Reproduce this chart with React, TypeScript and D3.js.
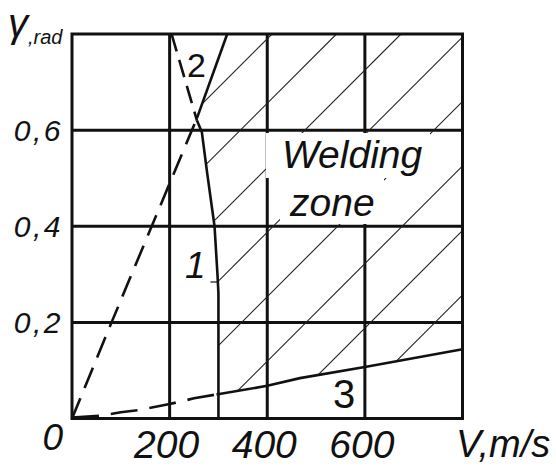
import React from "react";
import * as d3 from "d3";

// tick values
const xTicks = [200, 400, 600];
const yTicks = [0.2, 0.4, 0.6];
const yTickLabels = ["0,2", "0,4", "0,6"];

// curve 1 (upper part dashed, lower part solid)
const c1DashV = [204, 230, 256];
const c1DashG = [0.8, 0.71, 0.62];
const c1SolidV = [256, 266, 277, 292, 298, 300, 300, 300];
const c1SolidG = [0.62, 0.596, 0.51, 0.4, 0.3, 0.26, 0.05, 0];

// curve 2 (lower part dashed, upper part solid)
const c2DashV = [0, 81, 118, 256];
const c2DashG = [0, 0.2, 0.29, 0.625];
const c2SolidV = [256, 318];
const c2SolidG = [0.625, 0.8];

// curve 3
const c3DashV = [0, 60, 100, 140, 200, 250, 296];
const c3DashG = [0.002, 0.006, 0.013, 0.018, 0.03, 0.042, 0.05];
const c3SolidV = [296, 400, 467, 600, 800];
const c3SolidG = [0.05, 0.068, 0.084, 0.107, 0.144];

const W = 556, H = 467;
const font = "'Liberation Sans', Arial, sans-serif";

const zip = (v: number[], g: number[]) => v.map((d, i) => [d, g[i]] as [number, number]);

export default function App() {
  const x = d3.scaleLinear().domain([0, 800]).range([72, 462.5]);
  const y = d3.scaleLinear().domain([0, 0.8]).range([418.5, 34]);
  const line = d3.line<[number, number]>().x(d => x(d[0])).y(d => y(d[1]));

  // welding zone outline, built from the curves
  const zone: [number, number][] = [
    ...zip(c2SolidV, c2SolidG).reverse(),
    ...zip(c1SolidV, c1SolidG).filter(d => d[1] >= 0.05).slice(1),
    ...zip(c3SolidV, c3SolidG),
    [800, 0.8],
  ];

  // hatch lines x + y = c (pixels), at 45 deg
  const hatchStep = 64.5;
  const c0 = x(800) + y(0.257);
  const hatch: number[] = [];
  for (let c = c0 + hatchStep * 2; c > x(0) + y(0.8); c -= hatchStep) hatch.push(c);

  const gridW = 3;
  return (
    <svg width={W} height={H} style={{ position: "absolute", left: 0, top: 0, background: "#fff" }}>
      <defs>
        <clipPath id="zone">
          <path d={line(zone) + "Z"} />
        </clipPath>
      </defs>

      {/* grid */}
      {xTicks.map(t => (
        <line key={"gx" + t} x1={x(t)} x2={x(t)} y1={y(0)} y2={y(0.8)} stroke="#111" strokeWidth={gridW} />
      ))}
      {yTicks.map(t => (
        <line key={"gy" + t} x1={x(0)} x2={x(800)} y1={y(t)} y2={y(t)} stroke="#111" strokeWidth={gridW} />
      ))}

      {/* hatching */}
      <g clipPath="url(#zone)">
        {hatch.map(c => (
          <line key={c} x1={c - y(0)} y1={y(0)} x2={c - y(0.8)} y2={y(0.8)} stroke="#222" strokeWidth={1.1} />
        ))}
      </g>

      {/* curves */}
      <g fill="none" stroke="#111" strokeWidth={2.6}>
        <path d={line(zip(c1DashV, c1DashG)) || ""} strokeDasharray="18,9" />
        <path d={line(zip(c1SolidV, c1SolidG)) || ""} />
        <path d={line(zip(c2DashV, c2DashG)) || ""} strokeDasharray="22,11" />
        <path d={line(zip(c2SolidV, c2SolidG)) || ""} />
        <path d={line(zip(c3DashV, c3DashG)) || ""} strokeDasharray="27,12" />
        <path d={line(zip(c3SolidV, c3SolidG)) || ""} />
      </g>
      {/* leader tick of label 1 */}
      <line x1={x(300) - 8} x2={x(300)} y1={282} y2={282} stroke="#111" strokeWidth={1.2} />

      {/* zone label boxes */}
      <rect x={266} y={133} width={164} height={45} fill="#fff" />
      <rect x={280} y={178} width={104} height={46} fill="#fff" />

      {/* frame */}
      <rect x={x(0)} y={y(0.8)} width={x(800) - x(0)} height={y(0) - y(0.8)} fill="none" stroke="#111" strokeWidth={3} />

      <g fontFamily={font} fontStyle="italic" fill="#111">
        {yTicks.map((t, i) => (
          <text key={"ty" + t} x={63} y={y(t) + 10.5} fontSize={30} textAnchor="end" letterSpacing={2.5}>{yTickLabels[i]}</text>
        ))}
        {xTicks.map(t => (
          <text key={"tx" + t} x={x(t) - 3} y={458} fontSize={39} textAnchor="middle">{t}</text>
        ))}
        <text x={63} y={450} fontSize={37} textAnchor="end">0</text>
        <text x={456} y={457} fontSize={38}>V,m/s</text>
        <text x={8} y={37} fontSize={40}>
          γ<tspan fontSize={20} dy={7}>,rad</tspan>
        </text>
        <text x={282} y={168} fontSize={39}>Welding</text>
        <text x={290} y={216} fontSize={39}>zone</text>
        <text x={185} y={278} fontSize={37}>1</text>
      </g>
      <g fontFamily={font} fill="#111">
        <text x={187} y={77} fontSize={34}>2</text>
        <text x={333} y={408} fontSize={40}>3</text>
      </g>
    </svg>
  );
}
